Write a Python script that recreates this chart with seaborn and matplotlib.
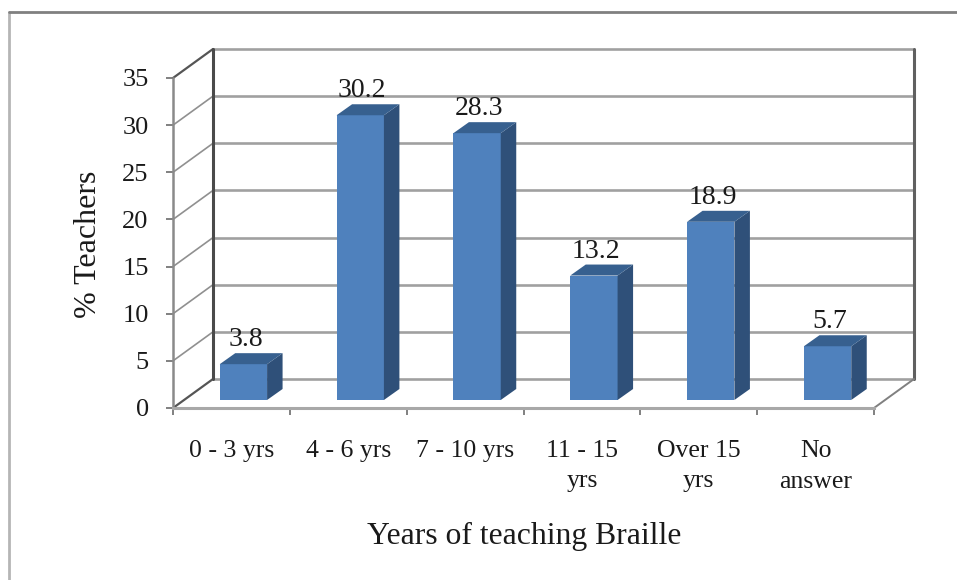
import matplotlib
matplotlib.use('Agg')
import matplotlib.pyplot as plt
from matplotlib.patches import Polygon
from matplotlib.transforms import Affine2D
import pandas as pd
import seaborn as sns

# 数据
categories = ['0 - 3 yrs', '4 - 6 yrs', '7 - 10 yrs', '11 - 15\nyrs', 'Over 15\nyrs', 'No\nanswer']
values = [3.8, 30.2, 28.3, 13.2, 18.9, 5.7]
yticks = [0, 5, 10, 15, 20, 25, 30, 35]

sns.set_theme(style='white')
plt.rcParams['font.family'] = ['Liberation Serif', 'DejaVu Serif']

W, H = 957, 580
fig = plt.figure(figsize=(W / 100, H / 100), dpi=100)
ax = fig.add_axes([173 / W, 1 - 408 / H, (874 - 173) / W, (408 - 78) / H])
ax.set_zorder(2)
ax.patch.set_alpha(0)

df = pd.DataFrame({'cat': categories, 'val': values})
sns.barplot(data=df, x='cat', y='val', ax=ax, color='#4F81BD', saturation=1, width=0.405, zorder=5)
ax.set_xlim(-0.5, 5.5)
ax.set_ylim(0, 35)
ax.set_yticks(yticks)
ax.set_xticks([i - 0.5 for i in range(7)])
ax.set_xticklabels([])
ax.tick_params(axis='both', length=5, width=1.4, color='#808080', bottom=True, left=True, pad=12.5)
ax.tick_params(axis='y', labelsize=19, labelcolor='#1a1a1a')
for s in ['top', 'right']:
    ax.spines[s].set_visible(False)
ax.spines['left'].set_color('#8a8a8a')
ax.spines['left'].set_linewidth(1.8)
ax.spines['bottom'].set_color('#a8a8a8')
ax.spines['bottom'].set_linewidth(2.2)

# 3D效果: 后墙和网格线 (像素偏移)
depth_x, depth_y = 40, 29
back = ax.transData + Affine2D().translate(depth_x, depth_y)
for t in yticks:
    ax.plot([-0.5, 5.5], [t, t], color='#a0a0a0', lw=1.9, transform=back, clip_on=False, zorder=1,
            solid_capstyle='butt')
    p0 = ax.transData.transform((-0.5, t))
    xs = [p0[0], p0[0] + depth_x]
    ys = [p0[1], p0[1] + depth_y]
    ax.plot(xs, ys, color='#555555' if t in (0, 35) else '#909090', lw=1.6 if t in (0, 35) else 1.2,
            transform=None, clip_on=False, zorder=2)
ax.plot([-0.5, -0.5], [0, 35], color='#4a4a4a', lw=2.2, transform=back, clip_on=False, zorder=2)
ax.plot([5.5, 5.5], [0, 35], color='#606060', lw=2.2, transform=back, clip_on=False, zorder=2)
p1 = ax.transData.transform((5.5, 0))
ax.plot([p1[0], p1[0] + depth_x], [p1[1], p1[1] + depth_y], color='#808080', lw=1.4,
        transform=None, clip_on=False, zorder=2)

# 柱子前移 + 侧面/顶面
bar_shift = Affine2D().translate(12, 8)
side_x, side_y = 15.5, 11
for bar in ax.patches:
    bar.set_transform(ax.transData + bar_shift)
    bar.set_edgecolor('none')
    (x0, y0), (x1, y1) = (ax.transData + bar_shift).transform(
        [(bar.get_x(), 0), (bar.get_x() + bar.get_width(), bar.get_height())])
    side = Polygon([(x1, y0), (x1 + side_x, y0 + side_y), (x1 + side_x, y1 + side_y), (x1, y1)],
                   closed=True, facecolor='#2F5079', edgecolor='none', transform=None, zorder=5)
    top = Polygon([(x0, y1), (x0 + side_x, y1 + side_y), (x1 + side_x, y1 + side_y), (x1, y1)],
                  closed=True, facecolor='#37608F', edgecolor='none', transform=None, zorder=5)
    ax.add_patch(side)
    ax.add_patch(top)
    ax.annotate(f'{bar.get_height():.1f}', xy=(bar.get_x() + bar.get_width() / 2, bar.get_height()),
                xytext=(14, 20), textcoords='offset pixels',
                ha='center', va='bottom', fontsize=20, color='#1a1a1a', zorder=6)

# x轴标签
for i, c in enumerate(categories):
    ax.annotate(c, xy=(i, 0), xytext=(0, -32), textcoords='offset pixels', ha='center', va='top',
                fontsize=18.5, color='#1a1a1a', linespacing=1.5, annotation_clip=False)

ax.set_xlabel('')
ax.set_ylabel('')
fig.text(88 / W, 1 - 244 / H, '% Teachers', rotation=90, ha='center', va='center', fontsize=23, color='#1a1a1a')
fig.text(524 / W, 1 - 536 / H, 'Years of teaching Braille', ha='center', va='center', fontsize=22.8, color='#1a1a1a')

# 外框 (只有上边和左边)
fig.add_artist(plt.Line2D([9 / W, 9 / W], [0, 1 - 12 / H], color='#b5b5b5', lw=2))
fig.add_artist(plt.Line2D([9 / W, 1], [1 - 12 / H, 1 - 12 / H], color='#808080', lw=2))

fig.savefig('out.png', dpi=100)
